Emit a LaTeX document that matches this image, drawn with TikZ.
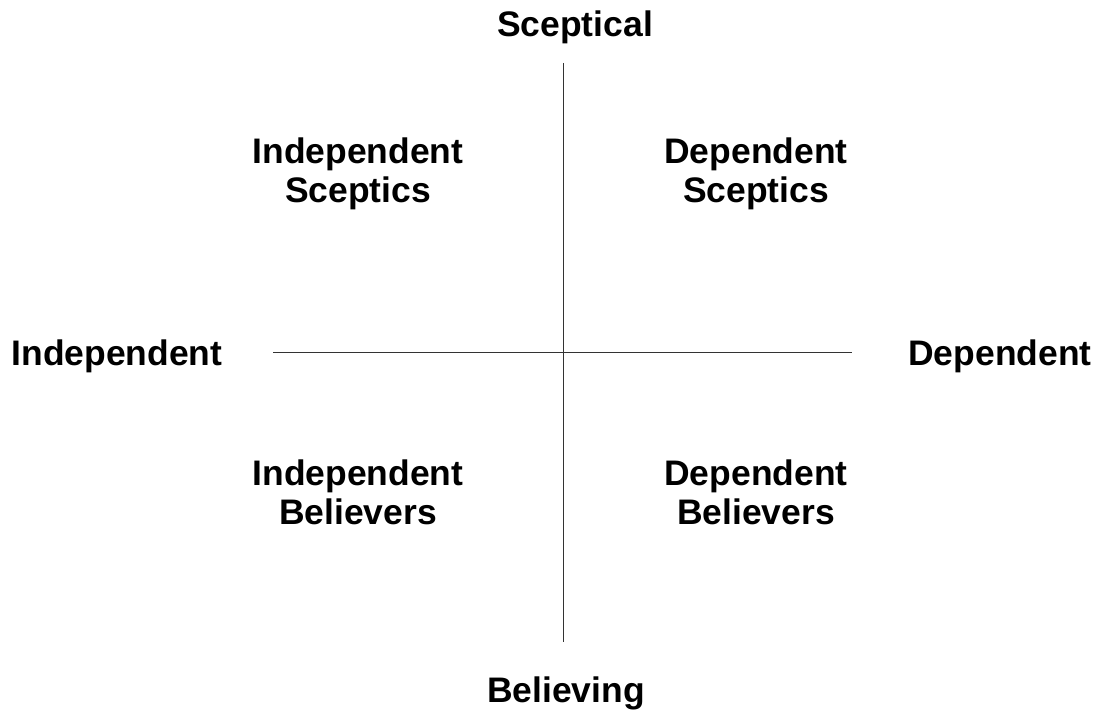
\documentclass[tikz,border=0pt]{standalone}
\usepackage{fontspec}
\setmainfont{Liberation Sans}

\tikzset{
	lbl/.style={font=\bfseries\fontsize{26.6}{29.3}\selectfont, align=center, inner sep=0pt},
	axis/.style={line width=0.75pt, black!80}
}

\begin{document}
\begin{tikzpicture}[x=0.75pt,y=-0.75pt]
		\useasboundingbox (0,0) rectangle (1094,713);

		\coordinate (up) at (563,63);
		\coordinate (down) at (563,642);
		\coordinate (west) at (273,352);
		\coordinate (east) at (852,352);

		\node (scep) at (575,37) [lbl, anchor=base] {Sceptical};
		\node (beli) at (566,702) [lbl, anchor=base] {Believing};
		\node (indep) at (117,365) [lbl, anchor=base] {Independent};
		\node (dep) at (1000,365) [lbl, anchor=base] {Dependent};

		\node (isc) at (358,174) [lbl] {Independent\\Sceptics};
		\node (dsc) at (756,174) [lbl] {Dependent\\Sceptics};
		\node (ibe) at (358,492) [lbl] {Independent\\Believers};
		\node (dbe) at (756,492) [lbl] {Dependent\\Believers};

		\draw[axis] (up)--(down);
		\draw[axis] (west)--(east);
	\end{tikzpicture}
\end{document}
